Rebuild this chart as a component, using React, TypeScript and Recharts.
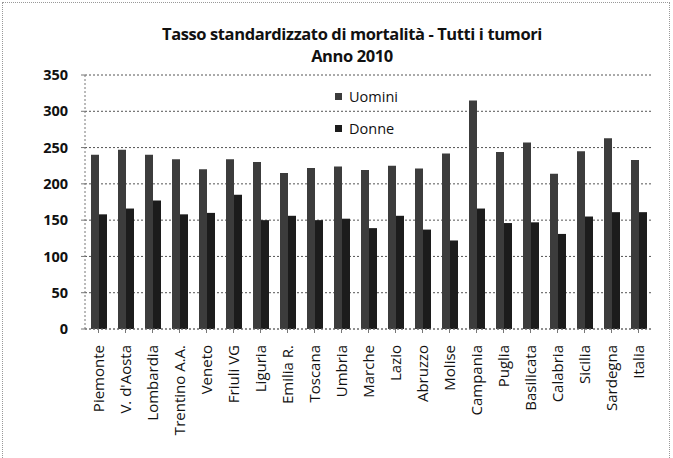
import { BarChart, Bar, XAxis, YAxis, CartesianGrid } from "recharts";

const regioni = [
  "Piemonte", "V. d'Aosta", "Lombardia", "Trentino A.A.", "Veneto", "Friuli VG", "Liguria",
  "Emilia R.", "Toscana", "Umbria", "Marche", "Lazio", "Abruzzo", "Molise", "Campania",
  "Puglia", "Basilicata", "Calabria", "Sicilia", "Sardegna", "Italia",
];
const uomini = [240, 247, 240, 234, 220, 234, 230, 215, 222, 224, 219, 225, 221, 242, 315, 244, 257, 214, 245, 263, 233];
const donne = [158, 166, 177, 158, 160, 185, 150, 156, 150, 152, 139, 156, 137, 122, 166, 146, 147, 131, 155, 161, 161];
const yTicks = [0, 50, 100, 150, 200, 250, 300, 350];

const data = regioni.map((r, i) => ({ regione: r, Uomini: uomini[i], Donne: donne[i] }));

const FONT = "'Open Sans', 'Liberation Sans', sans-serif";
const COL_U = "#3c3c3c";
const COL_D = "#1c1c1c";

const RotatedTick = ({ x, y, payload }: any) => (
  <text
    x={x}
    y={y}
    transform={`rotate(-90, ${x}, ${y})`}
    dx={-10}
    dy={5}
    textAnchor="end"
    fontSize={15}
    fontFamily={FONT}
    fill="#111"
  >
    {payload.value}
  </text>
);

export default function App() {
  return (
    <div style={{ position: "absolute", left: 0, top: 0, width: 673, height: 458, background: "#fff" }}>
      <div
        style={{
          position: "absolute",
          left: 2,
          top: 2,
          width: 668,
          height: 470,
          border: "1px dotted #999",
          boxSizing: "border-box",
        }}
      />
      <div
        style={{
          position: "absolute",
          left: 0,
          top: 23,
          width: 704,
          textAlign: "center",
          fontFamily: FONT,
          fontWeight: 700,
          fontSize: 16.5,
          lineHeight: "22px",
          color: "#111",
          letterSpacing: -0.4,
        }}
      >
        <div>Tasso standardizzato di mortalità - Tutti i tumori</div>
        <div>Anno 2010</div>
      </div>
      <BarChart
        width={673}
        height={458}
        data={data}
        margin={{ top: 75, right: 21, left: 0, bottom: 0 }}
        barSize={8}
        barGap={0}
        style={{ position: "absolute", left: 0, top: 0 }}
      >
        <CartesianGrid vertical={false} stroke="#555" strokeDasharray="2 2" />
        <XAxis
          dataKey="regione"
          interval={0}
          height={129}
          tick={<RotatedTick />}
          axisLine={{ stroke: "#777", strokeDasharray: "2 2" }}
          tickLine={{ stroke: "#777" }}
          tickSize={4}
        />
        <YAxis
          width={85}
          domain={[0, 350]}
          ticks={yTicks}
          interval={0}
          tick={{ fontSize: 14.5, fontFamily: FONT, fill: "#111", fontWeight: 700 }}
          axisLine={{ stroke: "#777", strokeDasharray: "2 2" }}
          tickLine={{ stroke: "#777" }}
          tickSize={4}
          tickMargin={13}
        />
        <Bar dataKey="Uomini" fill={COL_U} isAnimationActive={false} />
        <Bar dataKey="Donne" fill={COL_D} isAnimationActive={false} />
      </BarChart>
      <div style={{ position: "absolute", left: 335, top: 80, fontFamily: FONT, fontSize: 14.5, color: "#111" }}>
        {[
          { name: "Uomini", color: COL_U },
          { name: "Donne", color: COL_D },
        ].map((it) => (
          <div key={it.name} style={{ display: "flex", alignItems: "center", height: 32 }}>
            <span style={{ width: 7, height: 7, background: it.color, display: "inline-block", marginRight: 7 }} />
            {it.name}
          </div>
        ))}
      </div>
    </div>
  );
}
